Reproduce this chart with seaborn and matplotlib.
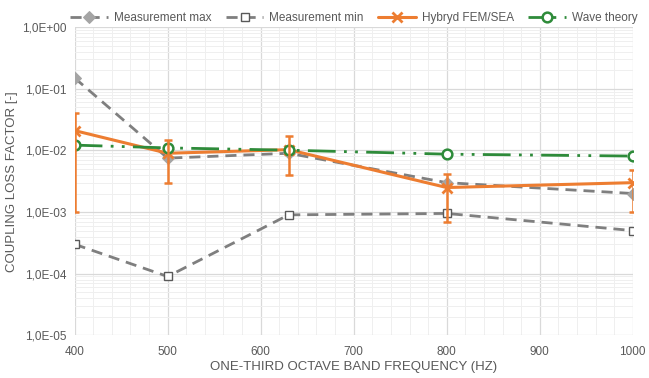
import numpy as np
import pandas as pd
import matplotlib
matplotlib.use("Agg")
import matplotlib.pyplot as plt
import seaborn as sns
from matplotlib.ticker import MultipleLocator, FuncFormatter, LogLocator, NullFormatter

freq = [400, 500, 630, 800, 1000]
meas_max = [0.15, 0.0075, 0.009, 0.003, 0.002]
meas_min = [0.0003, 0.00009, 0.0009, 0.00095, 0.0005]
hybrid = [0.021, 0.009, 0.0103, 0.0025, 0.003]
hybrid_lo = [0.001, 0.003, 0.004, 0.0007, 0.001]
hybrid_hi = [0.04, 0.015, 0.017, 0.0042, 0.0048]
wave = [0.0122, 0.011, 0.0101, 0.0087, 0.0081]

text_col = "#595959"
grey = "#7f7f7f"
orange = "#ED7D31"
green = "#2E8B3A"

sns.set_style("white")
plt.rcParams["font.family"] = ["Liberation Sans", "DejaVu Sans"]

df = pd.DataFrame({"freq": freq, "max": meas_max, "min": meas_min,
                   "hyb": hybrid, "wave": wave})

fig, ax = plt.subplots(figsize=(6.49, 3.78), dpi=100)
fig.subplots_adjust(left=0.115, right=0.975, top=0.928, bottom=0.113)

sns.lineplot(data=df, x="freq", y="max", ax=ax, color=grey, lw=2,
             linestyle=(0, (4, 2.5)), marker="D", markersize=6,
             markerfacecolor="#a5a5a5", markeredgecolor="#a5a5a5",
             label="Measurement max")
sns.lineplot(data=df, x="freq", y="min", ax=ax, color=grey, lw=2,
             linestyle=(0, (4, 2.5)), marker="s", markersize=6,
             markerfacecolor="white", markeredgecolor="#595959", markeredgewidth=1,
             label="Measurement min")
yerr = [np.array(hybrid) - np.array(hybrid_lo), np.array(hybrid_hi) - np.array(hybrid)]
ax.errorbar(freq, hybrid, yerr=yerr, fmt="none", ecolor=orange, elinewidth=1.8,
            capsize=3, capthick=1.8, zorder=3)
sns.lineplot(data=df, x="freq", y="hyb", ax=ax, color=orange, lw=2.2,
             marker="x", markersize=7, markeredgewidth=2,
             markeredgecolor=orange, label="Hybryd FEM/SEA")
sns.lineplot(data=df, x="freq", y="wave", ax=ax, color=green, lw=2,
             linestyle=(0, (10, 3, 1, 3, 1, 3)), marker="o", markersize=7,
             markerfacecolor="white", markeredgecolor=green, markeredgewidth=1.8,
             label="Wave theory")

ax.set_yscale("log")
ax.set_ylim(1e-5, 1)
ax.set_xlim(400, 1000)
ax.xaxis.set_major_locator(MultipleLocator(100))
ax.xaxis.set_minor_locator(MultipleLocator(20))
ax.yaxis.set_major_locator(LogLocator(base=10, numticks=10))
ax.yaxis.set_minor_locator(LogLocator(base=10, subs=np.arange(2, 10), numticks=20))
ax.yaxis.set_minor_formatter(NullFormatter())

def sci_comma(v, pos):
    e = int(round(np.log10(v)))
    sign = "+" if e >= 0 else "-"
    return f"1,0E{sign}{abs(e):02d}"

ax.yaxis.set_major_formatter(FuncFormatter(sci_comma))
ax.grid(which="major", color="#d9d9d9", lw=0.9)
ax.grid(which="minor", color="#efefef", lw=0.7)
for s in ax.spines.values():
    s.set_visible(False)
ax.tick_params(which="both", length=0, colors=text_col, labelsize=8.5)
ax.tick_params(axis="x", pad=8)
ax.tick_params(axis="y", pad=6)
ax.set_xlabel("ONE-THIRD OCTAVE BAND FREQUENCY (HZ)", color=text_col, fontsize=9.5, labelpad=2)
ax.set_ylabel("COUPLING LOSS FACTOR [-]", color=text_col, fontsize=9.5, labelpad=3)

leg = ax.legend(loc="center", bbox_to_anchor=(0.5, 1.03), ncol=4, frameon=False,
                fontsize=8.5, handlelength=3.2, columnspacing=1.2, handletextpad=0.5)
for t in leg.get_texts():
    t.set_color(text_col)

fig.savefig("out.png", dpi=100)
